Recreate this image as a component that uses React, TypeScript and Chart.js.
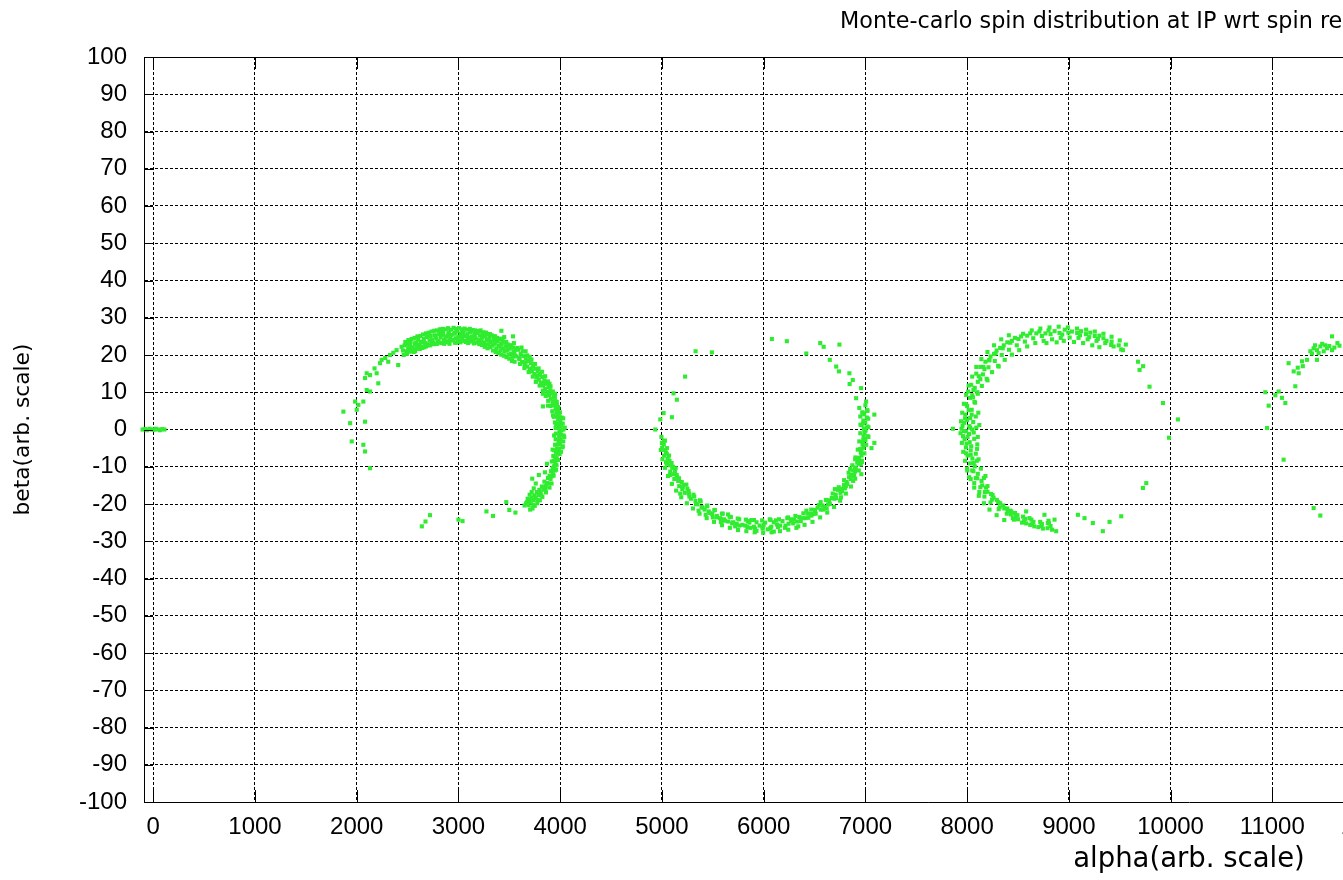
import { useEffect, useRef } from "react";
import { Chart, registerables } from "chart.js";

Chart.register(...registerables);

const titleText = "Monte-carlo spin distribution at IP wrt spin re";
const xTitle = "alpha(arb. scale)";
const yTitle = "beta(arb. scale)";

const xTicks = [0, 1000, 2000, 3000, 4000, 5000, 6000, 7000, 8000, 9000, 10000, 11000, 12000, 13000, 14000, 15000, 16000, 17000, 18000, 19000, 20000];
const yTicks = [-100, -90, -80, -70, -60, -50, -40, -30, -20, -10, 0, 10, 20, 30, 40, 50, 60, 70, 80, 90, 100];

// spins at the start of tracking
const startCluster: [number, number][] = [
  [-105, 0], [-82, 0.1], [-60, -0.2], [-38, 0.2], [-15, 0], [5, -0.1], [24, 0.2], [46, 0], [67, -0.2], [88, 0.1], [110, 0],
];

// first turn
const turn1: [number, number][] = [
  [1869, 4.8], [1984, 7.5], [2000, 5.3], [1935, 1.7], [2082, 2.1], [1951, -3.2], [2065, -4.1], [2082, -5.9], [2131, -10.4],
  [2098, 10.6], [2131, 10.2], [2065, 7.5], [2016, 6.6], [2082, 13.8], [2131, 14.6], [2196, 15.1], [2212, 12.4], [2098, 15.1],
  [2229, 17.8], [2245, 18.7], [2327, 20.0], [2310, 18.2], [2408, 17.3], [2392, 21.3], [2441, 22.2], [2506, 21.8], [2523, 22.7],
  [2572, 23.1], [2280, 19.2], [2360, 20.6], [2175, 16.4],
  [2455, 21.2], [2470, 22.6], [2488, 21.0], [2502, 22.9], [2515, 21.7], [2530, 23.4], [2548, 22.1], [2560, 20.8], [2575, 23.0],
  [2590, 22.4], [2605, 24.1], [2618, 22.8], [2632, 23.5], [2645, 21.9], [2660, 24.3], [2672, 23.2], [2688, 24.8], [2700, 22.6],
  [2715, 23.9], [2728, 25.1], [2742, 24.0], [2755, 22.9], [2770, 25.3], [2783, 24.4], [2797, 23.5], [2810, 25.6], [2825, 24.7],
  [2838, 23.3], [2850, 25.9], [2865, 24.2], [2878, 25.0], [2892, 23.6], [2905, 26.1], [2918, 24.8], [2930, 25.4], [2945, 23.9],
  [2958, 25.7], [2972, 24.5], [2985, 26.3], [2998, 25.0], [3010, 23.7], [3024, 25.8], [3037, 24.3], [3050, 26.0], [3063, 25.1],
  [3077, 23.8], [3090, 25.6], [3103, 24.6], [3117, 26.2], [3130, 25.0], [3143, 23.9], [3157, 25.5], [3170, 24.4], [3184, 25.9],
  [3197, 24.0], [3210, 25.2], [3224, 23.6], [3238, 24.9], [3251, 23.4], [3265, 25.1], [3278, 24.1], [3292, 22.9], [3305, 24.6],
  [3318, 23.5], [3332, 22.5], [3345, 24.2], [3358, 23.0], [3372, 21.8], [3385, 23.6], [3398, 22.4], [3412, 21.3], [3425, 23.0],
  [3438, 21.8], [3452, 20.9], [3465, 22.3], [3478, 21.2], [3492, 20.1], [3505, 21.7], [3518, 20.4], [3532, 19.5], [3545, 21.0],
  [3558, 19.8],
  [2620, 21.6], [2680, 22.3], [2735, 23.1], [2790, 23.0], [2860, 23.0], [2910, 24.0], [2975, 23.3], [3040, 26.6], [3095, 23.2],
  [3150, 26.5], [3205, 26.3], [3260, 22.6], [3310, 25.6], [3360, 25.0], [3420, 24.4], [3470, 23.5], [3520, 22.6], [2575, 21.0],
  [2820, 26.2], [3000, 24.1], [3120, 24.2], [3240, 25.8], [3400, 20.6], [3450, 24.8],
  [2462, 20.0], [2478, 23.5], [2495, 20.3], [2508, 24.0], [2522, 20.9], [2540, 24.3], [2552, 21.4], [2568, 24.6], [2583, 21.7],
  [2597, 25.0], [2611, 22.0], [2626, 25.1], [2638, 22.3], [2652, 25.5], [2666, 22.1], [2680, 25.8], [2694, 22.9], [2708, 26.0],
  [2722, 22.6], [2736, 26.3], [2750, 23.3], [2763, 26.5], [2777, 23.0], [2790, 26.6], [2804, 23.7], [2817, 26.9], [2831, 23.2],
  [2845, 27.0], [2858, 23.9], [2872, 26.9], [2885, 23.4], [2898, 27.2], [2912, 23.0], [2926, 26.8], [2940, 24.1], [2952, 27.3],
  [2966, 23.3], [2980, 27.0], [2993, 23.6], [3006, 27.2], [3020, 23.4], [3033, 26.9], [3046, 23.8], [3060, 27.1], [3072, 23.5],
  [3085, 26.8], [3098, 23.4], [3112, 27.0], [3125, 23.6], [3138, 26.7], [3152, 23.1], [3165, 26.6], [3178, 23.3], [3192, 26.4],
  [3205, 22.9], [3218, 26.6], [3232, 22.7], [3245, 26.1], [3258, 22.2], [3272, 26.0], [3286, 21.8], [3299, 25.6], [3312, 22.1],
  [3326, 25.3], [3340, 21.2], [3352, 25.0], [3366, 20.8], [3380, 24.6], [3393, 20.5], [3406, 24.2], [3420, 20.1], [3433, 23.8],
  [3446, 19.8], [3460, 23.3], [3472, 19.4], [3486, 22.8], [3500, 19.0], [3512, 22.5], [3526, 18.4], [3540, 22.0], [3552, 18.2],
  [3566, 21.6],
  [2520, 22.3], [2585, 23.4], [2650, 23.6], [2710, 25.0], [2775, 24.8], [2840, 25.4], [2900, 25.6], [2965, 26.0], [3030, 25.1],
  [3090, 24.4], [3160, 24.8], [3230, 24.6], [3290, 24.0], [3355, 23.6], [3415, 22.8], [3485, 21.8], [3550, 20.5], [3600, 19.2],
  [3660, 18.0], [3720, 16.4], [3780, 14.5], [3840, 12.3], [3890, 10.0], [3935, 7.2], [3965, 5.0], [3985, 3.0], [3998, 0.8],
  [3998, -1.0], [3990, -3.3], [3975, -5.8], [3958, -8.0], [3940, -10.2], [3915, -12.6], [3885, -14.5], [3855, -16.2],
  [3815, -17.7], [3775, -18.9], [3735, -20.3],
  [3570, 19.6], [3585, 21.4], [3598, 18.9], [3612, 20.3], [3625, 18.1], [3638, 19.7], [3650, 17.6], [3662, 19.0], [3675, 16.9],
  [3688, 18.4], [3700, 16.2], [3712, 17.8], [3722, 15.6], [3735, 17.1], [3745, 14.9], [3758, 16.3], [3768, 14.1], [3780, 15.6],
  [3790, 13.4], [3802, 14.8], [3812, 12.6], [3822, 14.1], [3832, 11.8], [3845, 13.2], [3852, 10.9], [3865, 12.3], [3872, 10.1],
  [3885, 11.4], [3890, 9.2], [3903, 10.5], [3908, 8.3], [3920, 9.6], [3925, 7.4], [3938, 8.6], [3940, 6.5], [3952, 7.7],
  [3955, 5.6], [3967, 6.7], [3965, 4.6], [3978, 5.5], [3972, 3.6], [3988, 4.4], [3980, 2.6], [3995, 3.3], [3985, 1.5],
  [4002, 2.2], [3990, 0.4], [4008, 1.1], [3993, -0.7], [4012, -0.2], [3990, -1.8], [4010, -1.4], [3985, -2.9], [4003, -2.6],
  [3978, -4.0], [3996, -3.9], [3970, -5.1], [3988, -5.2], [3960, -6.2], [3978, -6.5], [3948, -7.3], [3966, -7.7], [3935, -8.4],
  [3952, -9.0],
  [3580, 21.9], [3605, 17.6], [3630, 21.0], [3648, 16.5], [3676, 19.9], [3690, 15.4], [3718, 18.8], [3730, 14.2], [3752, 17.6],
  [3765, 12.9], [3788, 16.4], [3798, 11.8], [3822, 15.5], [3830, 10.4], [3852, 14.3], [3858, 9.0], [3880, 12.9], [3882, 7.7],
  [3905, 11.6], [3905, 6.3], [3928, 10.2], [3922, 4.9], [3948, 8.8], [3938, 3.4], [3966, 7.4], [3948, 1.9], [3982, 6.0],
  [3955, 0.4], [3998, 4.6], [3957, -1.1], [4015, 3.2], [3955, -2.6], [4025, 1.6], [3950, -4.1], [4032, 0.0], [3942, -5.6],
  [4034, -1.6], [3932, -7.1], [4030, -3.2], [3918, -8.6], [4022, -4.8], [3995, -6.6], [4008, -6.0], [3980, -8.2], [3964, -9.6],
  [3948, -11.0], [3960, -10.8], [3935, -12.4], [3915, -14.5], [3895, -15.6], [3860, -16.9], [3825, -18.1], [3800, -19.0],
  [3775, -19.8], [3750, -20.5], [3728, -21.2], [3705, -21.5], [3725, -13.2], [3790, -12.2], [3850, -11.5], [3870, -9.2],
  [3620, 22.0], [3700, 19.5], [3760, 12.8], [3830, 9.6], [3895, 12.3], [3950, 9.6], [4030, 3.0], [4045, 0.5], [4040, -2.0],
  [3960, 1.0], [3940, -1.6], [3930, 3.8], [4025, -4.5], [3925, -5.4], [3545, 23.2], [3660, 21.0], [3880, 6.4], [3830, 6.2],
  [3925, -10.3], [3942, -9.8], [3910, -11.2], [3930, -12.0], [3895, -12.4], [3905, -13.3], [3880, -13.0], [3870, -14.4],
  [3858, -15.2], [3845, -14.0], [3835, -16.1], [3820, -15.3], [3808, -16.9], [3795, -16.2], [3785, -17.6], [3770, -16.8],
  [3760, -18.4], [3745, -17.7], [3735, -19.0], [3720, -18.3], [3710, -19.6], [3695, -18.9], [3690, -20.3], [3675, -19.5],
  [3760, -14.5], [3740, -15.8], [3720, -16.8], [3700, -17.5], [3680, -18.6], [3665, -19.8], [3650, -20.4],
  [2676, -24.7], [2640, -26.0], [2720, -23.0], [3000, -24.2], [3040, -24.6], [3275, -22.0], [3340, -23.2], [3500, -21.6],
  [3560, -22.3], [3470, -19.5], [3422, 26.5], [3536, 25.0],
];

// second turn
const turn2: [number, number][] = [
  [5018, -4.0], [5002, -4.9], [5040, -6.2], [5022, -7.0], [5068, -8.3], [5048, -9.2], [5102, -10.3], [5082, -11.3],
  [5145, -12.2], [5122, -13.3], [5195, -14.1], [5170, -15.2], [5250, -15.9], [5225, -17.0], [5310, -17.5], [5285, -18.6],
  [5375, -19.0], [5350, -20.1], [5445, -20.4], [5420, -21.5], [5520, -21.6], [5495, -22.7], [5598, -22.6], [5572, -23.8],
  [5678, -23.5], [5652, -24.7], [5760, -24.1], [5735, -25.3], [5845, -24.6], [5820, -25.8], [5930, -24.9], [5905, -26.1],
  [6015, -25.0], [5990, -26.3], [6100, -24.9], [6075, -26.1], [6185, -24.6], [6162, -25.8], [6268, -24.1], [6245, -25.3],
  [6350, -23.5], [6328, -24.7], [6430, -22.6], [6410, -23.8], [6505, -21.6], [6488, -22.7], [6578, -20.4], [6562, -21.5],
  [6645, -19.0], [6632, -20.1], [6708, -17.5], [6695, -18.6], [6765, -15.9], [6755, -17.0], [6815, -14.1], [6808, -15.2],
  [6860, -12.2], [6856, -13.3], [6898, -10.3], [6898, -11.3], [6930, -8.3], [6935, -9.2], [6955, -6.2], [6962, -7.0],
  [6972, -4.0], [6982, -4.9], [6982, -1.9], [6995, -2.5], [6985, 0.3], [7002, -0.3], [6980, 2.4], [6998, 1.9], [6970, 4.6],
  [6988, 4.1],
  [5030, -5.5], [5075, -9.6], [5160, -13.8], [5265, -17.2], [5390, -20.8], [5460, -22.0], [5540, -23.2], [5610, -24.1],
  [5700, -24.9], [5790, -25.6], [5870, -26.4], [5960, -25.8], [6040, -26.8], [6130, -25.5], [6210, -26.4], [6300, -24.2],
  [6380, -23.8], [6460, -22.6], [6530, -21.0], [6600, -20.8], [6670, -18.4], [6730, -16.2], [6790, -14.9], [6840, -12.8],
  [6880, -11.0], [6920, -8.9], [6948, -5.3], [6975, -3.3], [6992, -1.0], [7020, 0.8], [7030, -2.0], [7015, 3.2], [6960, 1.2],
  [6965, -8.4], [6900, -8.0], [6850, -10.6], [5055, -7.8], [5110, -12.0], [5200, -16.0], [5330, -19.2], [5500, -23.6],
  [5650, -22.8], [5880, -24.3], [6060, -24.1], [6240, -23.6], [6420, -21.8], [6560, -19.5], [6760, -18.2], [5135, -10.4],
  [5240, -14.8], [6100, -27.4], [5930, -27.2],
  [4995, -2.0], [5030, -3.0], [4990, -5.5], [5050, -5.0], [5005, -8.0], [5070, -7.0], [5030, -10.3], [5095, -9.0],
  [5060, -12.5], [5128, -11.2], [5098, -14.6], [5168, -13.1], [5140, -16.4], [5212, -14.9], [5190, -18.2], [5262, -16.5],
  [5245, -19.8], [5318, -18.0], [5305, -21.2], [5380, -19.3], [5370, -22.6], [5445, -20.6], [5440, -23.8], [5515, -21.7],
  [5512, -24.8], [5590, -22.6], [5590, -25.7], [5665, -23.4], [5668, -26.4], [5745, -23.9], [5748, -27.0], [5825, -24.2],
  [5830, -27.3], [5905, -24.3], [5912, -27.6], [5985, -24.4], [5995, -27.7], [6068, -24.3], [6078, -27.6], [6150, -24.1],
  [6160, -27.3], [6232, -23.8], [6242, -26.9], [6312, -23.2], [6322, -26.4], [6390, -22.5], [6402, -25.6], [6468, -21.5],
  [6480, -24.8], [6542, -20.3], [6555, -23.6], [6612, -18.9], [6625, -22.3], [6678, -17.2], [6692, -20.8], [6738, -15.5],
  [6752, -19.1], [6790, -13.6], [6808, -17.2], [6835, -11.6], [6858, -15.3], [6872, -9.6], [6900, -13.2], [6902, -7.5],
  [6935, -11.0], [6925, -5.4], [6965, -8.7], [6940, -3.2], [6990, -6.4], [6950, -1.0], [7008, -4.1], [6952, 1.3],
  [7022, -1.8], [6950, 3.5], [7030, 0.6], [7028, 2.9], [7018, 5.2], [6940, 5.8], [7000, 6.5],
  [5400, -21.0], [5470, -22.4], [5540, -23.6], [5620, -24.5], [5690, -25.2], [5760, -25.8], [5840, -26.2], [5915, -26.6],
  [5990, -26.6], [6065, -26.5], [6140, -26.2], [6215, -25.8], [6290, -25.2], [6365, -24.6], [6440, -23.7], [6512, -22.6],
  [6585, -21.5], [6650, -20.0], [6712, -18.4], [6770, -16.5], [6822, -14.6], [6866, -12.5], [6905, -10.2], [6938, -7.6],
  [6962, -5.2], [6980, -2.8], [6990, 0.0], [5110, -10.0], [5150, -12.8], [5205, -15.5], [5270, -18.0], [5335, -20.0],
  [5048, -6.5], [5075, -8.5], [5020, -3.0],
  [5360, -21.8], [5430, -22.9], [5580, -24.8], [5720, -26.0], [5860, -25.0], [6000, -25.6], [6120, -24.4], [6270, -24.6],
  [6340, -26.0], [6470, -23.1], [6620, -21.2], [6700, -16.0], [6800, -15.8], [6890, -12.2], [6955, -9.4], [7000, -2.8],
  [6975, 1.6], [5080, -12.2], [5180, -17.2], [5040, -8.8],
  [6556, 23.2], [6590, 22.2], [6745, 22.8], [6650, 18.7], [6713, 16.9], [6740, 15.6], [6843, 15.1], [6876, 13.3], [6845, 12.2],
  [6958, 11.1], [6909, 8.4], [7007, 7.5], [6974, 4.5], [7020, 5.0], [7088, 4.0], [7088, -3.6], [7060, -5.0], [6081, 24.3],
  [6228, 23.7], [6419, 20.4], [5331, 21.0], [5491, 20.7], [5228, 14.2], [5114, 9.7], [5147, 8.0], [5098, 3.3], [5016, 4.4],
  [4984, 2.7], [4935, 0.0], [5000, -3.6], [6880, -13.8], [6960, -12.0],
];

// third turn
const turn3: [number, number][] = [
  [9490, 22.6], [9515, 21.5], [9420, 23.6], [9440, 22.3], [9340, 24.5], [9358, 23.2], [9255, 25.1], [9272, 23.8],
  [9168, 25.6], [9185, 24.2], [9082, 25.9], [9095, 24.6], [8995, 26.0], [9008, 24.7], [8908, 25.9], [8920, 24.6],
  [8820, 25.6], [8835, 24.2], [8735, 25.1], [8752, 23.8], [8650, 24.5], [8670, 23.2], [8568, 23.6], [8590, 22.3],
  [8488, 22.6], [8512, 21.3], [8412, 21.4], [8440, 20.1], [8340, 20.0], [8370, 18.7], [8272, 18.4], [8305, 17.1],
  [8210, 16.7], [8245, 15.4], [8155, 14.8], [8192, 13.6], [8105, 12.8], [8145, 11.7], [8062, 10.6], [8105, 9.6],
  [8028, 8.5], [8072, 7.4], [8000, 6.3], [8045, 5.3], [7982, 4.0], [8030, 3.1], [7972, 1.8], [8022, 0.9], [7970, -0.4],
  [8020, -1.2], [7975, -2.6], [8025, -3.4], [7988, -4.8], [8035, -5.6], [8005, -7.0], [8052, -7.8], [8030, -9.1],
  [8075, -9.9], [8062, -11.2], [8105, -11.9], [8100, -13.1], [8142, -13.8], [8148, -15.0], [8185, -15.6], [8200, -16.7],
  [8235, -17.3], [8260, -18.3], [8292, -18.9], [8325, -19.8], [8355, -20.4], [8395, -21.2], [8422, -21.8], [8470, -22.4],
  [8495, -23.0], [8550, -23.4], [8572, -24.0], [8632, -24.2], [8652, -24.8], [8718, -24.8], [8735, -25.4], [8805, -25.2],
  [8820, -25.9],
  [7955, 1.0], [7960, -1.8], [7945, 0.2], [8060, 2.0], [8070, -2.5], [8085, -6.5], [7990, 6.8], [8010, 10.2], [8040, 12.0],
  [8090, 15.0], [8130, 16.8], [8180, 18.2], [8230, 19.6], [8290, 21.2], [8360, 22.6], [8440, 23.8], [8530, 25.0],
  [8620, 25.8], [8710, 26.3], [8800, 26.6], [8960, 26.8], [9120, 26.4], [9210, 26.0], [9300, 25.2], [8000, -10.5],
  [8020, -12.8], [8070, -14.4], [8120, -16.8], [8170, -18.0], [8230, -19.6], [8310, -21.4], [8390, -22.6], [8460, -24.2],
  [8540, -25.0], [8620, -25.6], [8700, -26.2], [8100, -4.0], [8110, 4.5], [8200, 13.2], [8310, 16.9], [8095, -8.4],
  [8180, -12.5], [7990, -6.4], [7980, 3.0],
  [8090, 0.5], [8105, -2.0], [8085, 3.5], [8120, 1.2], [8098, -5.2], [8112, -8.0], [8078, 7.2], [8135, -10.5], [8100, 10.0],
  [8165, -13.0], [8130, 13.5], [8200, -15.2], [8170, 16.2], [8250, -17.6], [8215, 18.6], [8305, -19.5], [8265, 20.3],
  [8365, -21.2], [8325, 21.9], [8430, -22.8], [8395, 23.4], [8500, -24.1], [8470, 24.6], [8580, -25.2], [8550, 25.7],
  [8660, -26.0], [8635, 26.6], [8745, -26.6], [8720, 27.1], [8835, -26.9], [8810, 27.4], [8900, 27.6], [8990, 27.4],
  [9080, 27.1], [9170, 26.8], [9255, 26.3], [9340, 25.7], [9420, 24.9], [9500, 23.9], [7935, -1.0], [7940, 2.2],
  [7948, -3.6], [7952, 4.5], [7962, -6.0], [7968, 6.9], [7980, -8.4], [7990, 9.3], [8002, -11.0], [8015, 11.8],
  [8035, -13.3], [8050, 14.2], [8070, -15.6], [8090, 16.8], [8115, -17.8], [8140, 18.9], [8165, -19.8], [8200, 20.8],
  [8220, -21.5], [8265, 22.6], [8290, -23.0], [8335, 24.2], [8365, -24.3], [8410, 25.3], [8050, 0.0], [8040, -4.5],
  [8045, 4.0], [8065, -9.0], [8058, 8.6], [9050, 23.5], [8950, 23.8], [9140, 23.2], [8880, 23.4], [9230, 22.6],
  [8780, 23.2], [9300, 22.1],
  [8030, 0.5], [8005, -2.0], [8035, -6.8], [8015, 5.2], [8050, 9.2], [8075, 11.2], [8115, 14.3], [8160, 16.8], [8220, 18.6],
  [8280, 20.4], [8350, 21.8], [8425, 23.3], [8505, 24.3], [8590, 25.2], [8680, 25.8], [8770, 25.8], [8860, 26.4],
  [8935, 25.5], [9030, 26.3], [9110, 25.3], [9200, 24.8], [9285, 24.3], [9370, 23.8], [8050, -11.0], [8085, -13.0],
  [8130, -15.5], [8175, -16.8], [8245, -18.8], [8320, -20.9], [8400, -22.0], [8475, -23.5], [8560, -24.6], [8640, -25.4],
  [8730, -25.9], [8800, -24.5], [8790, -26.5], [7990, -0.5], [8065, -0.8], [8000, 2.5], [7995, -3.8],
  [9680, 18.2], [9695, 16.0], [9730, 17.0], [9793, 11.5], [9925, 7.1], [10072, 2.7], [9984, -2.2], [9761, -14.4],
  [9728, -15.7], [9515, -23.3], [9400, -24.8], [9334, -27.3], [9236, -25.1], [9154, -23.8], [9089, -22.9], [8859, -24.2],
  [8793, -25.1], [8760, -22.9], [8613, -23.8], [8580, -22.0], [8449, -23.8], [8433, -22.0], [8875, -27.3], [9416, 22.7],
  [9531, 21.3], [9560, 22.8], [7860, 0.2],
];

// fourth turn (start)
const turn4: [number, number][] = [
  [10931, 10.0], [10964, 6.4], [10948, 0.4], [11062, 10.2], [11095, 8.5], [11128, 7.1], [11030, 9.2], [11111, -8.1],
  [11226, 11.6], [11160, 17.8], [11210, 15.6], [11259, 15.1], [11292, 18.3], [11341, 18.7], [11374, 21.0], [11406, 21.8],
  [11439, 21.3], [11472, 22.3], [11538, 21.8], [11587, 25.0], [11587, 21.3], [11505, 21.0], [11439, 18.7], [11406, -21.1],
  [11472, -23.1], [11390, 20.4], [11420, 22.6], [11455, 20.5], [11490, 23.0], [11520, 22.6], [11560, 22.4], [11610, 22.0],
  [11640, 23.2], [11660, 22.5], [11250, 16.6], [11300, 17.0],
];

const allPoints = [...startCluster, ...turn1, ...turn2, ...turn3, ...turn4];

const framePlugin = {
  id: "frame",
  afterDraw(chart: any) {
    const { ctx, chartArea: a, scales } = chart;
    ctx.save();
    ctx.strokeStyle = "#000";
    ctx.lineWidth = 1;
    ctx.setLineDash([]);
    ctx.beginPath();
    const top = Math.round(a.top) + 0.5;
    ctx.moveTo(a.left, top);
    ctx.lineTo(a.right, top);
    for (const t of scales.x.ticks) {
      const px = Math.round(scales.x.getPixelForValue(t.value)) + 0.5;
      ctx.moveTo(px, a.bottom);
      ctx.lineTo(px, a.bottom - 12);
      ctx.moveTo(px, a.top);
      ctx.lineTo(px, a.top + 12);
    }
    for (const t of scales.y.ticks) {
      const py = Math.round(scales.y.getPixelForValue(t.value)) + 0.5;
      ctx.moveTo(a.left, py);
      ctx.lineTo(a.left + 9, py);
      ctx.moveTo(a.right, py);
      ctx.lineTo(a.right - 9, py);
    }
    ctx.stroke();
    ctx.fillStyle = "#000";
    ctx.font = '22.3px "DejaVu Sans"';
    ctx.textAlign = "left";
    ctx.textBaseline = "alphabetic";
    ctx.fillText(titleText, 840, 28);
    ctx.restore();
  },
};

export default function App() {
  const ref = useRef<HTMLCanvasElement>(null);

  useEffect(() => {
    if (!ref.current) return;
    const tickFont = { family: '"Liberation Sans", Arial, sans-serif', size: 24 };
    const chart = new Chart(ref.current, {
      type: "scatter",
      data: {
        datasets: [
          {
            data: allPoints.map(([x, y]) => ({ x, y })),
            backgroundColor: "rgb(48,236,48)",
            borderWidth: 0,
            pointStyle: "rect",
            pointRadius: 2.9,
            clip: false as any,
          },
        ],
      },
      options: {
        animation: false,
        responsive: false,
        layout: { padding: { top: 57, left: 0, right: 16, bottom: 0 } },
        plugins: { legend: { display: false }, tooltip: { enabled: false }, title: { display: false } },
        scales: {
          x: {
            type: "linear",
            min: -91,
            max: 20453,
            afterBuildTicks: (s: any) => {
              s.ticks = xTicks.map((v) => ({ value: v }));
            },
            afterFit: (s: any) => {
              s.height = 78;
            },
            grid: { color: "#000", lineWidth: 1, drawTicks: false },
            border: { display: true, color: "#000", width: 1, dash: [3, 2] },
            ticks: {
              autoSkip: false,
              maxRotation: 0,
              padding: 11,
              color: "#000",
              font: tickFont,
              callback: (v: any) => String(v),
            },
            title: {
              display: true,
              text: xTitle,
              color: "#000",
              font: { family: '"DejaVu Sans", sans-serif', size: 27.5 },
              padding: { top: 0, bottom: 4 },
            },
          },
          y: {
            type: "linear",
            min: -100,
            max: 100,
            afterBuildTicks: (s: any) => {
              s.ticks = yTicks.map((v) => ({ value: v }));
            },
            afterFit: (s: any) => {
              s.width = 144;
            },
            grid: { color: "#000", lineWidth: 1, drawTicks: false },
            border: { display: true, color: "#000", width: 1, dash: [3, 2] },
            ticks: {
              autoSkip: false,
              padding: 17,
              color: "#000",
              font: tickFont,
              callback: (v: any) => String(v),
            },
            title: {
              display: true,
              text: yTitle,
              color: "#000",
              font: { family: '"DejaVu Sans", sans-serif', size: 21.75 },
              padding: { top: 10, bottom: 0 },
            },
          },
        },
      },
      plugins: [framePlugin],
    });
    return () => chart.destroy();
  }, []);

  return (
    <div
      style={{
        position: "fixed",
        left: 0,
        top: 0,
        width: 1343,
        height: 880,
        overflow: "hidden",
        background: "#fff",
      }}
    >
      <canvas ref={ref} width={2250} height={880} style={{ display: "block" }} />
    </div>
  );
}
